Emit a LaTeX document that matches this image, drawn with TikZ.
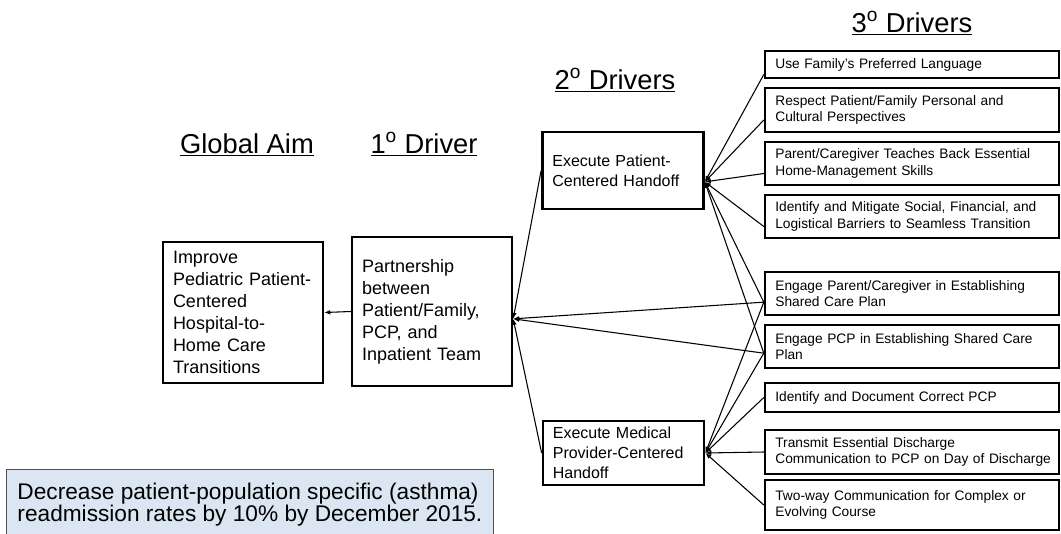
\documentclass[tikz,border=0pt]{standalone}
\usepackage{fontspec}
\setmainfont{Liberation Sans}
\usetikzlibrary{positioning,arrows.meta}

\definecolor{goalfill}{HTML}{DCE6F2}
\definecolor{goalline}{HTML}{505050}

\begin{document}
\begin{tikzpicture}[x=0.75pt, y=-0.75pt,
    head/.style={anchor=base, font=\fontsize{20.5}{24}\selectfont},
    box/.style={draw, line width=1.8pt, align=left, inner ysep=1pt},
    bigbox/.style={box, inner xsep=7.5pt, text width=105pt, font=\fontsize{13.5}{16.5}\selectfont},
    midbox/.style={box, inner xsep=7.5pt, text width=106pt, font=\fontsize{12}{15}\selectfont},
    smallbox/.style={box, inner xsep=7.75pt, text width=205pt, font=\fontsize{10.3}{12.5}\selectfont},
    link/.style={line width=0.8pt},
    arr/.style={link, -{Latex[length=4.5pt,width=3.5pt]}}]

      \useasboundingbox (0,0) rectangle (1061,533);

      % Column headings
      \node[head] (haim) at (247, 153) {\underline{Global Aim}};
      \node[head] (hpri) at (424, 153) {\underline{1\textsuperscript{o} Driver}};
      \node[head] (hsec) at (615, 89) {\underline{2\textsuperscript{o} Drivers}};
      \node[head] (hter) at (912, 32) {\underline{3\textsuperscript{o} Drivers}};

      % Aim and primary driver
      \node[bigbox, minimum height=105.75pt] (aim) at (243, 312.5)
        {Improve\\Pediatric Patient-\\Centered\\Hospital-to-\\Home Care\\Transitions};
      \node[bigbox, minimum height=111.75pt] (pri) at (432, 311.5)
        {Partnership\\between\\Patient/Family,\\PCP, and\\Inpatient Team};

      % Secondary drivers
      \node[midbox, minimum height=57.75pt] (sec1) at (623, 170.5)
        {Execute Patient-\\Centered Handoff};
      \node[midbox, minimum height=48pt] (sec2) at (623.5, 453)
        {Execute Medical\\Provider-Centered\\Handoff};

      % Tertiary drivers
      \node[smallbox, minimum height=20.25pt] (t1) at (912, 64.5)
        {Use Family's Preferred Language};
      \node[smallbox, minimum height=33pt] (t2) at (912, 110)
        {Respect Patient/Family Personal and\\Cultural Perspectives};
      \node[smallbox, minimum height=32.25pt] (t3) at (912, 163.5)
        {Parent/Caregiver Teaches Back Essential\\Home-Management Skills};
      \node[smallbox, minimum height=32.25pt] (t4) at (912, 216.5)
        {Identify and Mitigate Social, Financial, and\\Logistical Barriers to Seamless Transition};
      \node[smallbox, minimum height=32.25pt] (t5) at (912, 293.5)
        {Engage Parent/Caregiver in Establishing\\Shared Care Plan};
      \node[smallbox, minimum height=32.25pt] (t6) at (912, 346.5)
        {Engage PCP in Establishing Shared Care\\Plan};
      \node[smallbox, minimum height=21.75pt] (t7) at (912, 397.5)
        {Identify and Document Correct PCP};
      \node[smallbox, minimum height=33pt] (t8) at (912, 452)
        {Transmit Essential Discharge\\\mbox{Communication to PCP on Day of Discharge}};
      \node[smallbox, minimum height=37.5pt] (t9) at (912, 505)
        {Two-way Communication for Complex or\\Evolving Course};

      % Goal statement
      \node[draw=goalline, fill=goalfill, line width=0.75pt, anchor=north west,
            align=left, inner xsep=8.25pt, inner ysep=10pt,
            font=\fontsize{17}{16.5}\selectfont] (goal) at (6, 469)
        {Decrease patient-population specific (asthma)\\readmission rates by 10\% by December 2015.};

      % Points where the arrows meet
      \coordinate (pripin) at ([yshift=-5.5pt]pri.east);
      \coordinate (sec1pin) at ([yshift=-8.5pt]sec1.east);

      \draw[arr] (pri.west) -- (aim.east);

      \draw[arr] (sec1.west) -- (pripin);
      \draw[arr] (sec2.west) -- (pripin);
      \draw[arr] ([yshift=-6.5pt]t5.west) -- (pripin);
      \draw[arr] ([yshift=-5pt]t6.west) -- (pripin);

      \draw[arr] ([yshift=-7.5pt]t1.west) -- (sec1pin);
      \draw[arr] ([yshift=-7.5pt]t2.west) -- (sec1pin);
      \draw[arr] ([yshift=-7.5pt]t3.west) -- (sec1pin);
      \draw[arr] ([yshift=-7.5pt]t4.west) -- (sec1pin);
      \draw[arr] ([yshift=-6.5pt]t5.west) -- (sec1pin);
      \draw[arr] ([yshift=-5pt]t6.west) -- (sec1pin);

      \draw[arr] ([yshift=-6.5pt]t5.west) -- (sec2.east);
      \draw[arr] ([yshift=-5pt]t6.west) -- (sec2.east);
      \draw[arr] (t7.west) -- (sec2.east);
      \draw[arr] (t8.west) -- (sec2.east);
      \draw[arr] (t9.west) -- (sec2.east);

\end{tikzpicture}
\end{document}
